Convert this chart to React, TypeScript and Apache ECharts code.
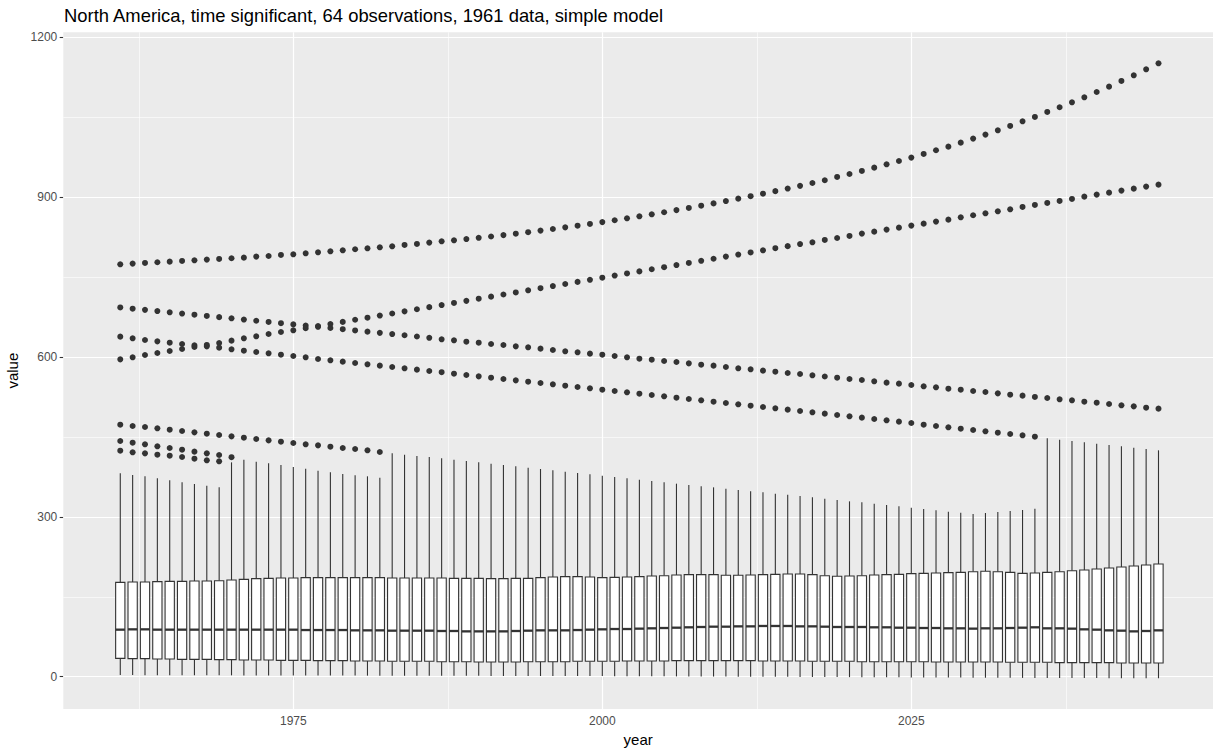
import React, { useEffect, useRef } from "react";
import * as echarts from "echarts";

const FONT = "'Liberation Sans', Arial, Helvetica, sans-serif";

const TITLE = "North America, time significant, 64 observations, 1961 data, simple model";
const X_NAME = "year";
const Y_NAME = "value";

const years: number[] = [
  1961, 1962, 1963, 1964, 1965, 1966, 1967, 1968, 1969, 1970,
  1971, 1972, 1973, 1974, 1975, 1976, 1977, 1978, 1979, 1980,
  1981, 1982, 1983, 1984, 1985, 1986, 1987, 1988, 1989, 1990,
  1991, 1992, 1993, 1994, 1995, 1996, 1997, 1998, 1999, 2000,
  2001, 2002, 2003, 2004, 2005, 2006, 2007, 2008, 2009, 2010,
  2011, 2012, 2013, 2014, 2015, 2016, 2017, 2018, 2019, 2020,
  2021, 2022, 2023, 2024, 2025, 2026, 2027, 2028, 2029, 2030,
  2031, 2032, 2033, 2034, 2035, 2036, 2037, 2038, 2039, 2040,
  2041, 2042, 2043, 2044, 2045,
];

const xTicks = [1975, 2000, 2025];
const xMinorGrid = [1962.5, 1987.5, 2012.5, 2037.5];
const yTicks = [0, 300, 600, 900, 1200];
const yMinorGrid = [150, 450, 750, 1050];

// box statistics per year
const whiskerLow: number[] = [
  3.0, 3.0, 2.9, 2.9, 2.8, 2.8, 2.7, 2.7, 2.6, 2.6,
  2.5, 2.5, 2.4, 2.4, 2.3, 2.3, 2.2, 2.2, 2.1, 2.1,
  2.0, 2.0, 1.9, 1.9, 1.8, 1.8, 1.7, 1.7, 1.6, 1.6,
  1.5, 1.5, 1.4, 1.4, 1.3, 1.3, 1.2, 1.2, 1.1, 1.1,
  1.0, 1.0, 0.9, 0.8, 0.7, 0.6, 0.5, 0.4, 0.3, 0.2,
  0.1, 0.0, -0.1, -0.2, -0.3, -0.4, -0.5, -0.6, -0.7, -0.8,
  -0.9, -1.0, -1.1, -1.2, -1.3, -1.4, -1.5, -1.6, -1.7, -1.8,
  -1.9, -2.0, -2.1, -2.2, -2.3, -2.4, -2.5, -2.5, -2.6, -2.6,
  -2.7, -2.7, -2.8, -2.8, -2.9,
];

const q1: number[] = [
  34.5, 33.9, 33.9, 33.2, 33.2, 32.6, 32.6, 32.6, 32.0, 32.0,
  31.4, 31.4, 31.4, 30.7, 30.7, 30.7, 30.1, 30.1, 30.1, 29.5,
  29.5, 29.5, 28.9, 28.9, 28.9, 28.9, 28.2, 28.2, 28.2, 27.6,
  27.6, 27.6, 27.6, 28.2, 28.2, 28.2, 28.2, 28.9, 28.9, 28.9,
  28.9, 29.5, 29.5, 29.5, 29.5, 30.1, 30.1, 30.1, 30.1, 30.1,
  30.1, 30.1, 29.5, 29.5, 29.5, 29.5, 28.9, 28.9, 28.9, 28.9,
  28.2, 28.2, 28.2, 28.2, 28.2, 28.2, 27.6, 27.6, 27.6, 27.6,
  27.6, 27.6, 27.0, 27.0, 27.0, 27.0, 26.4, 26.4, 26.4, 26.4,
  26.4, 25.7, 25.7, 25.7, 25.7,
];

const median: number[] = [
  88.3, 88.9, 88.9, 88.3, 88.3, 88.3, 88.3, 88.3, 88.3, 88.3,
  88.3, 88.3, 88.3, 88.3, 88.3, 87.6, 87.6, 87.6, 87.6, 87.0,
  87.0, 87.0, 86.4, 86.4, 86.4, 86.4, 85.8, 85.8, 85.1, 85.1,
  85.1, 85.1, 85.8, 86.4, 87.0, 87.0, 87.0, 87.6, 88.3, 88.9,
  89.5, 89.5, 90.2, 90.8, 91.4, 92.0, 92.7, 93.3, 93.9, 93.9,
  94.5, 94.5, 95.2, 95.2, 95.2, 94.5, 94.5, 93.9, 93.3, 93.3,
  93.3, 92.7, 92.7, 92.0, 92.0, 91.4, 91.4, 90.8, 90.8, 90.2,
  90.8, 90.8, 91.4, 92.0, 92.7, 90.8, 90.8, 90.2, 88.9, 88.3,
  87.0, 86.4, 85.1, 85.8, 87.0,
];

const q3: number[] = [
  177.1, 177.7, 177.7, 178.4, 179.0, 179.0, 179.6, 179.6, 180.2, 181.5,
  182.7, 184.0, 184.6, 185.2, 185.2, 185.9, 185.9, 185.9, 185.9, 185.9,
  185.9, 185.9, 185.2, 185.2, 185.2, 185.2, 185.2, 184.6, 184.6, 184.6,
  184.0, 184.0, 184.6, 184.6, 185.9, 187.1, 187.8, 187.8, 187.1, 185.9,
  186.5, 187.1, 187.8, 189.0, 189.6, 190.9, 191.5, 191.5, 191.5, 190.3,
  190.3, 190.9, 191.5, 192.1, 192.8, 192.8, 191.5, 189.6, 188.4, 189.0,
  189.6, 190.9, 191.5, 192.1, 193.4, 194.0, 194.6, 195.3, 195.9, 197.1,
  197.8, 197.1, 195.9, 194.0, 194.6, 195.9, 197.1, 199.0, 200.3, 202.1,
  204.0, 205.9, 207.8, 209.6, 211.5,
];

const whiskerHigh: number[] = [
  381.7, 378.6, 376.1, 372.3, 368.6, 364.8, 361.7, 358.5, 355.4, 402.3,
  407.3, 403.6, 400.5, 397.3, 393.6, 390.5, 386.7, 383.6, 380.4, 377.9,
  376.1, 373.6, 419.2, 416.7, 414.2, 412.3, 409.8, 407.3, 404.8, 402.3,
  399.8, 397.3, 394.8, 392.3, 389.8, 387.3, 384.8, 382.3, 379.8, 377.3,
  374.8, 372.3, 369.8, 367.3, 364.8, 362.3, 359.8, 357.3, 355.4, 352.9,
  350.4, 347.9, 346.0, 343.5, 341.7, 339.2, 336.6, 334.1, 331.6, 329.1,
  327.3, 324.8, 322.3, 319.8, 317.3, 314.8, 312.3, 309.7, 307.9, 305.4,
  307.2, 309.1, 311.0, 312.9, 315.4, 447.4, 444.9, 442.4, 439.9, 437.4,
  434.9, 432.4, 429.9, 427.4, 424.9,
];

// outlier observations, each starting in 1961
const outlierA: number[] = [
  774.0, 775.3, 776.5, 777.8, 779.0, 780.3, 781.5, 782.8, 784.0, 785.3,
  786.5, 788.4, 789.6, 791.5, 792.8, 794.6, 796.5, 798.4, 800.3, 802.2,
  804.0, 805.9, 807.8, 810.3, 812.2, 814.7, 817.2, 819.0, 821.3, 823.7,
  826.2, 828.8, 831.5, 834.3, 837.2, 840.2, 843.3, 846.5, 849.8, 853.2,
  856.7, 860.3, 864.0, 867.8, 871.7, 875.7, 879.8, 884.0, 888.3, 892.7,
  897.2, 901.8, 906.5, 911.3, 916.2, 921.2, 926.6, 931.7, 937.9, 943.5,
  949.2, 955.4, 961.7, 967.9, 974.2, 981.1, 988.0, 994.8, 1002.3, 1009.9,
  1017.4, 1025.5, 1033.6, 1042.4, 1050.5, 1059.9, 1068.7, 1078.0, 1087.4, 1097.4,
  1107.4, 1118.1, 1128.7, 1140.0, 1151.2,
];

const outlierB: number[] = [
  693.0, 690.7, 688.5, 686.2, 683.9, 681.6, 679.4, 677.1, 674.8, 672.6,
  670.3, 668.0, 665.8, 663.5, 661.2, 659.0, 656.7, 654.4, 652.2, 649.9,
  647.6, 645.3, 643.1, 640.8, 638.5, 636.0, 633.2, 631.3, 628.8, 626.9,
  624.4, 622.5, 620.0, 618.2, 615.7, 613.2, 610.7, 608.8, 606.3, 604.4,
  601.9, 599.4, 596.9, 595.0, 592.5, 590.6, 588.1, 585.6, 583.8, 581.3,
  578.8, 576.9, 574.4, 572.5, 570.0, 568.1, 565.6, 563.4, 561.2, 558.7,
  556.9, 554.4, 551.9, 550.0, 547.5, 545.0, 543.1, 540.6, 538.7, 536.2,
  534.3, 531.8, 529.3, 527.5, 525.0, 523.1, 520.6, 518.7, 516.2, 514.3,
  511.8, 509.3, 507.4, 504.9, 503.1,
];

const outlierC: number[] = [
  638.2, 635.1, 631.9, 629.4, 626.9, 624.4, 621.9, 620.0, 617.5, 614.4,
  611.9, 609.4, 606.9, 604.4, 601.9, 599.4, 596.3, 593.8, 591.3, 588.8,
  586.3, 583.8, 581.3, 578.8, 576.3, 573.7, 571.5, 568.7, 566.2, 563.7,
  561.2, 558.7, 556.2, 553.7, 551.2, 548.7, 546.2, 543.7, 541.2, 538.7,
  536.2, 533.7, 531.2, 528.7, 526.2, 523.7, 521.2, 518.7, 516.2, 513.7,
  511.2, 508.7, 506.2, 503.7, 501.2, 498.7, 496.2, 493.7, 491.2, 488.7,
  486.2, 483.7, 481.2, 478.7, 476.2, 473.0, 470.5, 468.0, 465.5, 463.0,
  460.5, 458.0, 455.5, 453.0, 450.5,
];

const outlierD: number[] = [
  595.6, 599.4, 603.8, 607.5, 611.3, 615.0, 618.8, 622.6, 626.3, 630.7,
  635.1, 638.8, 643.2, 646.9, 650.1, 654.1, 658.0, 662.0, 665.9, 669.9,
  673.8, 677.8, 681.7, 685.7, 689.6, 693.6, 697.5, 701.5, 705.4, 709.4,
  713.3, 717.3, 721.2, 725.2, 729.1, 733.1, 737.0, 741.0, 744.9, 748.9,
  752.8, 756.8, 760.7, 764.7, 768.6, 772.6, 776.5, 780.5, 784.4, 788.4,
  792.3, 796.3, 800.2, 804.2, 808.1, 812.0, 815.3, 819.7, 823.4, 827.2,
  831.6, 835.3, 839.1, 842.8, 846.6, 850.3, 854.1, 857.8, 862.2, 866.0,
  869.7, 873.5, 877.2, 881.6, 885.4, 889.1, 892.9, 896.6, 901.0, 904.8,
  908.5, 912.3, 916.0, 919.8, 923.5,
];

const outlierE: number[] = [
  473.0, 470.5, 468.6, 466.2, 463.6, 461.1, 458.6, 456.1, 453.6, 451.1,
  448.6, 446.1, 443.6, 441.1, 438.6, 436.1, 434.2, 431.7, 429.2, 427.4,
  424.9, 421.7,
];

const outlierF: number[] = [
  442.4, 439.2, 436.1, 432.4, 429.2, 426.1, 422.4, 419.2, 416.1, 412.0,
];

const outlierG: number[] = [
  424.2, 421.1, 419.2, 416.7, 414.8, 412.3, 409.2, 406.1, 404.2,
];

const outlierSets = [outlierA, outlierB, outlierC, outlierD, outlierE, outlierF, outlierG];

export default function App() {
  const ref = useRef<HTMLDivElement>(null);

  useEffect(() => {
    if (!ref.current) return;
    const chart = echarts.init(ref.current, null, { renderer: "svg" });

    const boxData = years.map((y, i) => [y, whiskerLow[i], q1[i], median[i], q3[i], whiskerHigh[i]]);
    const outlierData: number[][] = [];
    outlierSets.forEach((set) => {
      set.forEach((v, i) => outlierData.push([years[i], v]));
    });

    const stroke = "#333333";
    const gridLines: any[] = [];
    yTicks.forEach((v) => gridLines.push({ yAxis: v, lineStyle: { color: "#FFFFFF", width: 1.2, type: "solid" } }));
    yMinorGrid.forEach((v) => gridLines.push({ yAxis: v, lineStyle: { color: "#FFFFFF", width: 0.6, type: "solid" } }));
    xTicks.forEach((v) => gridLines.push({ xAxis: v, lineStyle: { color: "#FFFFFF", width: 1.2, type: "solid" } }));
    xMinorGrid.forEach((v) => gridLines.push({ xAxis: v, lineStyle: { color: "#FFFFFF", width: 0.6, type: "solid" } }));

    const option: any = {
      animation: false,
      backgroundColor: "#FFFFFF",
      title: {
        text: TITLE,
        left: 59,
        top: 1,
        textStyle: { fontFamily: FONT, fontSize: 18.4, fontWeight: "normal", color: "#000000" },
      },
      grid: {
        left: 63.3,
        top: 32.3,
        width: 1149.7,
        height: 676.7,
        show: true,
        backgroundColor: "#EBEBEB",
        borderWidth: 0,
        containLabel: false,
        outerBoundsMode: "none",
      },
      xAxis: {
        type: "value",
        min: 1956.39,
        max: 2049.41,
        name: X_NAME,
        nameLocation: "middle",
        nameGap: 19,
        nameTextStyle: { fontFamily: FONT, fontSize: 15, color: "#000000" },
        axisLine: { show: false },
        axisTick: { show: true, customValues: xTicks, length: 3.6, lineStyle: { color: stroke, width: 1.1 } },
        axisLabel: {
          customValues: xTicks,
          formatter: (v: number) => String(v),
          color: "#4D4D4D",
          fontSize: 12,
          fontFamily: FONT,
          margin: 6,
        },
        splitLine: { show: false },
      },
      yAxis: {
        type: "value",
        min: -60.6,
        max: 1209.4,
        name: Y_NAME,
        nameLocation: "middle",
        nameRotate: 90,
        nameGap: 39,
        nameTextStyle: { fontFamily: FONT, fontSize: 15, color: "#000000" },
        axisLine: { show: false },
        axisTick: { show: true, customValues: yTicks, length: 3.6, lineStyle: { color: stroke, width: 1.1 } },
        axisLabel: {
          customValues: yTicks,
          formatter: (v: number) => String(v),
          color: "#4D4D4D",
          fontSize: 12,
          fontFamily: FONT,
          margin: 6,
        },
        splitLine: { show: false },
      },
      series: [
        {
          type: "scatter",
          name: "grid",
          z: 1,
          silent: true,
          data: [],
          markLine: {
            z: 1,
            silent: true,
            symbol: ["none", "none"],
            label: { show: false },
            emphasis: { disabled: true },
            data: gridLines,
          },
        },
        {
          type: "custom",
          name: "boxes",
          z: 3,
          silent: true,
          encode: { x: 0, y: [1, 2, 3, 4, 5] },
          data: boxData,
          renderItem: (params: any, api: any) => {
            const x = api.value(0);
            const pLow = api.coord([x, api.value(1)]);
            const pQ1 = api.coord([x, api.value(2)]);
            const pMed = api.coord([x, api.value(3)]);
            const pQ3 = api.coord([x, api.value(4)]);
            const pHigh = api.coord([x, api.value(5)]);
            const hw = api.size([0.75, 0])[0] / 2;
            const cx = pQ1[0];
            return {
              type: "group",
              children: [
                { type: "line", shape: { x1: cx, y1: pQ3[1], x2: cx, y2: pHigh[1] }, style: { stroke, lineWidth: 1.1 } },
                { type: "line", shape: { x1: cx, y1: pQ1[1], x2: cx, y2: pLow[1] }, style: { stroke, lineWidth: 1.1 } },
                {
                  type: "rect",
                  shape: { x: cx - hw, y: pQ3[1], width: 2 * hw, height: pQ1[1] - pQ3[1] },
                  style: { fill: "#FFFFFF", stroke, lineWidth: 1.1 },
                },
                { type: "line", shape: { x1: cx - hw, y1: pMed[1], x2: cx + hw, y2: pMed[1] }, style: { stroke, lineWidth: 2.3 } },
              ],
            };
          },
        },
        {
          type: "scatter",
          name: "outliers",
          z: 4,
          silent: true,
          symbol: "circle",
          symbolSize: 6,
          itemStyle: { color: stroke, opacity: 1 },
          data: outlierData,
        },
      ],
    };

    chart.setOption(option);
    return () => chart.dispose();
  }, []);

  return (
    <div
      ref={ref}
      style={{ position: "fixed", left: 0, top: 0, width: 1213, height: 748, background: "#FFFFFF" }}
    />
  );
}
